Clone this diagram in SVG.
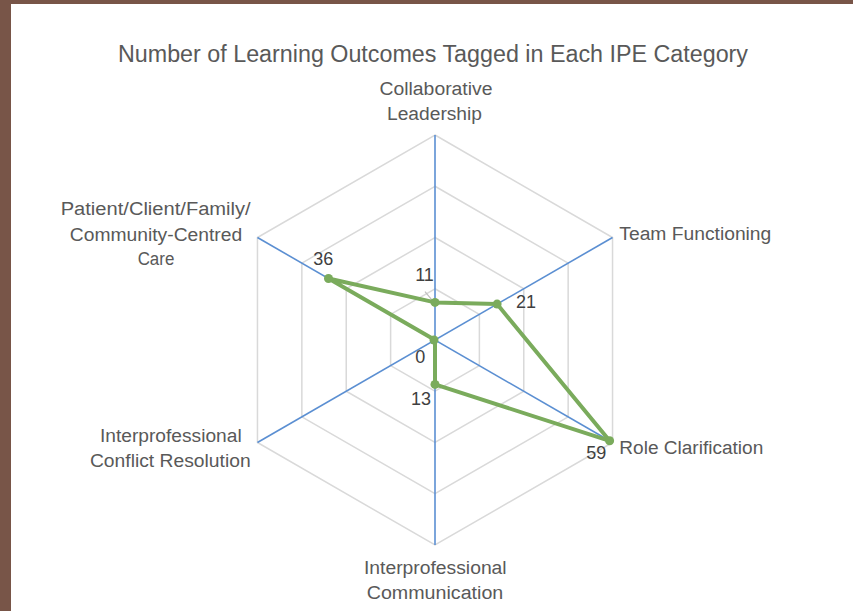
<svg xmlns="http://www.w3.org/2000/svg" width="853" height="611" viewBox="0 0 853 611">
<style>
  .lbl { font-family: "Liberation Sans", Arial, sans-serif; font-size: 18px; fill: #595959; }
  .num { font-family: "Liberation Sans", Arial, sans-serif; font-size: 18px; fill: #404040; text-anchor: middle; }
  .title { font-family: "Liberation Sans", Arial, sans-serif; font-size: 23px; fill: #595959; text-anchor: middle; }
  .grid { fill: none; stroke: #d9d9d9; stroke-width: 1.5; }
  .axis { stroke: #5b8fd2; stroke-width: 1.6; }
  .series { fill: none; stroke: #7aab5c; stroke-width: 4; stroke-linejoin: round; }
  .mk { fill: #7aab5c; }
</style>
<rect x="0" y="0" width="853" height="611" fill="#ffffff"/>
<rect x="0" y="0" width="853" height="4" fill="#785548"/>
<rect x="0" y="0" width="11" height="611" fill="#785548"/>

<text class="title" x="433" y="61.5" textLength="630" lengthAdjust="spacingAndGlyphs">Number of Learning Outcomes Tagged in Each IPE Category</text>

<g id="grid">
  <polygon class="grid" points="435,288.75 479.38,314.38 479.38,365.63 435,391.25 390.62,365.63 390.62,314.38"/>
  <polygon class="grid" points="435,237.5 523.77,288.75 523.77,391.25 435,442.5 346.23,391.25 346.23,288.75"/>
  <polygon class="grid" points="435,186.25 568.15,263.13 568.15,416.88 435,493.75 301.85,416.88 301.85,263.13"/>
  <polygon class="grid" points="435,135 612.54,237.5 612.54,442.5 435,545 257.46,442.5 257.46,237.5"/>
</g>

<g id="connectors">
  <line class="axis" x1="435" y1="135" x2="435" y2="545"/>
  <line class="axis" x1="612.54" y1="237.5" x2="257.46" y2="442.5"/>
  <line class="axis" x1="612.54" y1="442.5" x2="257.46" y2="237.5"/>
  <line x1="425" y1="291.7" x2="433.3" y2="301.7" stroke="#bfbfbf" stroke-width="1.2"/>
  <polygon class="series" points="435,302.4 497.1,304.1 609.6,440.8 435,384.4 435,340 328.5,278.5"/>
</g>

<g id="markers">
  <circle class="mk" cx="435" cy="302.4" r="4.5"/>
  <circle class="mk" cx="497.1" cy="304.1" r="4.5"/>
  <circle class="mk" cx="609.6" cy="440.8" r="4.5"/>
  <circle class="mk" cx="435" cy="384.4" r="4.5"/>
  <circle class="mk" cx="434" cy="340" r="4.5"/>
  <circle class="mk" cx="328.5" cy="278.5" r="4.5"/>
</g>

<g id="node-collaborative-leadership">
  <text class="lbl" x="436" y="95" text-anchor="middle" textLength="113" lengthAdjust="spacingAndGlyphs">Collaborative</text>
  <text class="lbl" x="434.5" y="120" text-anchor="middle" textLength="95" lengthAdjust="spacingAndGlyphs">Leadership</text>
  <text class="num" x="424.5" y="281">11</text>
</g>
<g id="node-team-functioning">
  <text class="lbl" x="619.3" y="239.5" textLength="152" lengthAdjust="spacingAndGlyphs">Team Functioning</text>
  <text class="num" x="526" y="308">21</text>
</g>
<g id="node-role-clarification">
  <text class="lbl" x="619.3" y="454" textLength="144" lengthAdjust="spacingAndGlyphs">Role Clarification</text>
  <text class="num" x="596.3" y="459">59</text>
</g>
<g id="node-interprofessional-communication">
  <text class="lbl" x="435.3" y="574" text-anchor="middle" textLength="142.7" lengthAdjust="spacingAndGlyphs">Interprofessional</text>
  <text class="lbl" x="435" y="599" text-anchor="middle" textLength="136.6" lengthAdjust="spacingAndGlyphs">Communication</text>
  <text class="num" x="421" y="405">13</text>
</g>
<g id="node-conflict-resolution">
  <text class="lbl" x="170.8" y="441.7" text-anchor="middle" textLength="141.7" lengthAdjust="spacingAndGlyphs">Interprofessional</text>
  <text class="lbl" x="170.3" y="466.7" text-anchor="middle" textLength="160.7" lengthAdjust="spacingAndGlyphs">Conflict Resolution</text>
  <text class="num" x="420.3" y="363.3">0</text>
</g>
<g id="node-patient-centred-care">
  <text class="lbl" x="155.7" y="215" text-anchor="middle" textLength="190" lengthAdjust="spacingAndGlyphs">Patient/Client/Family/</text>
  <text class="lbl" x="156" y="241" text-anchor="middle" textLength="172.3" lengthAdjust="spacingAndGlyphs">Community-Centred</text>
  <text class="lbl" x="156" y="265" text-anchor="middle" textLength="36.7" lengthAdjust="spacingAndGlyphs">Care</text>
  <text class="num" x="323.3" y="265">36</text>
</g>
</svg>
